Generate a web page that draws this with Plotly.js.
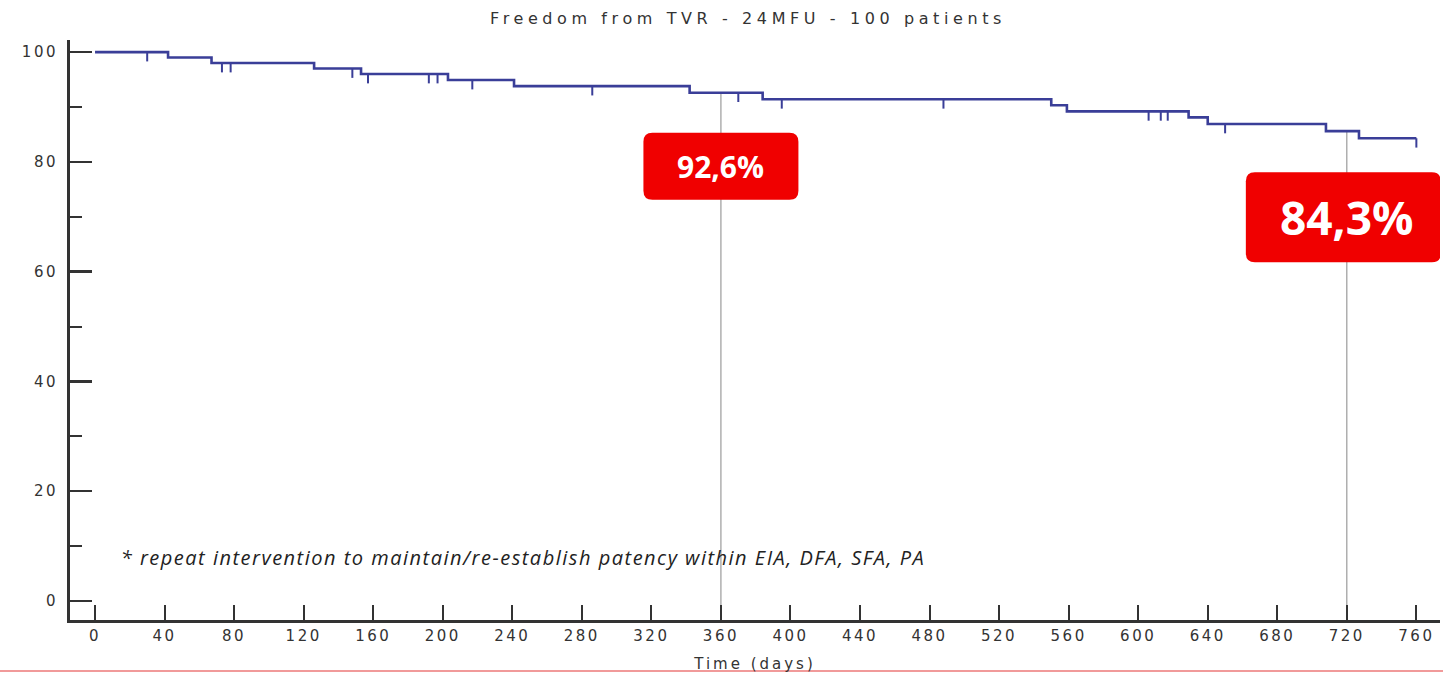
<!DOCTYPE html>
<html>
<head>
<meta charset="utf-8">
<script src="https://cdn.plot.ly/plotly-3.0.1.min.js"></script>
<style>
  html, body { margin: 0; padding: 0; background: #ffffff; }
  #chart { width: 1443px; height: 673px; }
  .gtitle { letter-spacing: 4.6px; }
  .xtick text, .ytick text { letter-spacing: 2.5px; }
  .g-xtitle text { letter-spacing: 3px; }
</style>
</head>
<body>
<div id="chart"></div>
<script>
// ---- Data ----
const stepDays = [0, 42, 67, 126, 153, 203, 241, 342, 384, 550, 559, 629, 640, 708, 727];
const survival = [100, 99.0, 98.0, 97.0, 96.0, 94.9, 93.8, 92.6, 91.4, 90.3, 89.2, 88.1, 86.9, 85.6, 84.3];
const followUpEnd = 760;
const censorDays = [30, 73, 78, 148, 157, 192, 197, 217, 286, 370, 395, 488, 606, 613, 617, 650, 760];
const refDays = [360, 720];
const refLabels = ["92,6%", "84,3%"];
const xTickVals = [0, 40, 80, 120, 160, 200, 240, 280, 320, 360, 400, 440, 480, 520, 560, 600, 640, 680, 720, 760];
const yTickVals = [0, 20, 40, 60, 80, 100];
const titleText = "Freedom from TVR - 24MFU - 100 patients";
const xTitleText = "Time (days)";
const footnoteText = "* repeat intervention to maintain/re-establish patency within EIA, DFA, SFA, PA";

// ---- Helpers ----
function S(t) {
  let v = survival[0];
  for (let i = 0; i < stepDays.length; i++) if (stepDays[i] <= t) v = survival[i];
  return v;
}

const xRange = [-14.4, 773.6];
const yRange = [-3.46, 102.2];
const M = { l: 70, r: 3, t: 40, b: 53 };
const plotW = 1443 - M.l - M.r, plotH = 673 - M.t - M.b;
const pxPerX = plotW / (xRange[1] - xRange[0]);
const pxPerY = plotH / (yRange[1] - yRange[0]);

// KM curve
const kmX = stepDays.concat([followUpEnd]);
const kmY = survival.concat([survival[survival.length - 1]]);

// censor marks
const cX = [], cY = [];
censorDays.forEach(d => { const v = S(d); cX.push(d, d, null); cY.push(v, v - 1.7, null); });

// reference lines
const rX = [], rY = [];
refDays.forEach(d => { rX.push(d, d, null); rY.push(S(d), yRange[0], null); });

function roundRect(cx, cy, wPx, hPx, rPx) {
  const hw = wPx / 2 / pxPerX, hh = hPx / 2 / pxPerY;
  const rx = rPx / pxPerX, ry = rPx / pxPerY;
  const x0 = cx - hw, x1 = cx + hw, y0 = cy - hh, y1 = cy + hh;
  return `M ${x0 + rx},${y1} L ${x1 - rx},${y1} Q ${x1},${y1} ${x1},${y1 - ry} ` +
         `L ${x1},${y0 + ry} Q ${x1},${y0} ${x1 - rx},${y0} L ${x0 + rx},${y0} ` +
         `Q ${x0},${y0} ${x0},${y0 + ry} L ${x0},${y1 - ry} Q ${x0},${y1} ${x0 + rx},${y1} Z`;
}

const boxes = [
  { cx: refDays[0], cy: 79.2, w: 155, h: 67, fs: 30 },
  { cx: 718, cy: 69.9, w: 195, h: 90, fs: 46 }
];

const red = "#f00000";
const shapes = boxes.map(b => ({
  type: "path", xref: "x", yref: "y", layer: "above",
  path: roundRect(b.cx, b.cy, b.w, b.h, 9),
  fillcolor: red, line: { width: 0 }
}));
shapes.push({
  type: "line", xref: "paper", yref: "paper",
  x0: -M.l / plotW, x1: (plotW + M.r) / plotW,
  y0: -(671 - (673 - M.b)) / plotH, y1: -(671 - (673 - M.b)) / plotH,
  line: { color: "#f19a9a", width: 2 }
});

const annotations = boxes.map((b, i) => ({
  x: b.cx + (i === 1 ? 2 : 0), y: b.cy, xref: "x", yref: "y", text: "<b>" + refLabels[i] + "</b>",
  showarrow: false, xanchor: "center", yanchor: "middle",
  font: { family: "Open Sans, sans-serif", size: b.fs, color: "#ffffff" }
}));
annotations.push({
  x: 246.4, y: 8.0, xref: "x", yref: "y", xanchor: "center", yanchor: "middle",
  text: "<i>" + footnoteText + "</i>", showarrow: false,
  font: { family: "Open Sans, sans-serif", size: 20, color: "#222222" }
});

const traces = [
  { x: rX, y: rY, mode: "lines", line: { color: "#9a9a9a", width: 1.2 }, hoverinfo: "skip", showlegend: false },
  { x: kmX, y: kmY, mode: "lines", line: { shape: "hv", color: "#3a3e98", width: 2.6 }, name: "Freedom from TVR", showlegend: false },
  { x: cX, y: cY, mode: "lines", line: { color: "#3a3e98", width: 2 }, hoverinfo: "skip", showlegend: false }
];

const axisFont = { family: "DejaVu Sans, sans-serif", size: 15, color: "#333333" };
const layout = {
  width: 1443, height: 673,
  margin: M,
  paper_bgcolor: "#ffffff", plot_bgcolor: "#ffffff",
  showlegend: false,
  title: {
    text: titleText, x: (748 - M.l) / plotW, xref: "paper", xanchor: "center",
    y: 1 - 18 / 673, yref: "container", yanchor: "middle",
    font: { family: "DejaVu Sans, sans-serif", size: 16, color: "#333333" }
  },
  xaxis: {
    range: xRange, tickvals: xTickVals, ticktext: xTickVals.map(String),
    ticks: "inside", ticklen: 15, tickwidth: 2, tickcolor: "#333333",
    showline: true, linecolor: "#333333", linewidth: 2.5,
    showgrid: false, zeroline: false, tickfont: axisFont,
    title: { text: xTitleText, font: axisFont, standoff: 19 },
    fixedrange: true
  },
  yaxis: {
    range: yRange, tickvals: yTickVals, ticktext: yTickVals.map(String),
    ticks: "inside", ticklen: 22, tickwidth: 2.5, tickcolor: "#333333",
    minor: { ticks: "inside", ticklen: 12, tickwidth: 2, tickcolor: "#333333", dtick: 10, tick0: 0 },
    showline: true, linecolor: "#333333", linewidth: 3,
    showgrid: false, zeroline: false, tickfont: axisFont,
    ticklabelstandoff: 6,
    fixedrange: true
  },
  shapes: shapes,
  annotations: annotations
};

Plotly.newPlot("chart", traces, layout, { displayModeBar: false, staticPlot: true });

// Footnote letter spacing for width match
setTimeout(() => {
  document.querySelectorAll(".annotation-text").forEach(el => {
    if (el.textContent.indexOf("repeat") >= 0) el.style.letterSpacing = "1.5px";
  });
}, 0);
</script>
</body>
</html>
